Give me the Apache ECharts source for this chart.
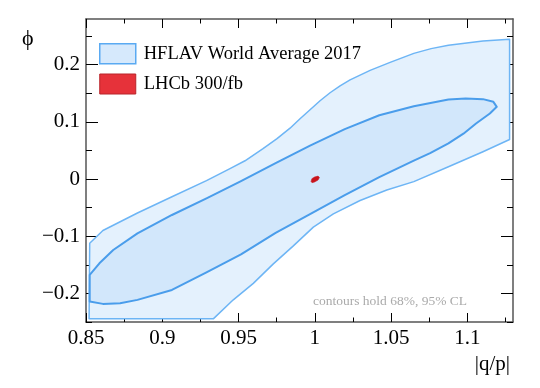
<!DOCTYPE html>
<html>
<head>
<meta charset="utf-8">
<script src="https://cdn.jsdelivr.net/npm/echarts@6/dist/echarts.min.js"></script>
<style>
  html, body { margin: 0; padding: 0; background: #fff; }
  #chart { width: 540px; height: 388px; }
</style>
</head>
<body>
<div id="chart"></div>
<script>
// axis ticks
const qMajor = [0.85, 0.9, 0.95, 1, 1.05, 1.1];
const qMinor = [0.875, 0.925, 0.975, 1.025, 1.075, 1.125];
const phiMajor = [-0.2, -0.1, 0, 0.1, 0.2];
const phiMinor = [-0.25, -0.15, -0.05, 0.05, 0.15, 0.25];

// 95% CL contour (HFLAV), vertices
const outerQ = [0.85243, 0.86109, 0.88373, 0.90636, 0.929, 0.94442, 0.95427, 0.96608, 0.97526, 0.98379, 0.99035, 0.99692,
  1.00348, 1.01004, 1.0166, 1.02316, 1.03629, 1.04941, 1.06496, 1.07631, 1.08766, 1.1103, 1.12776,
  1.12776, 1.1103, 1.08766, 1.06496, 1.04724, 1.02972, 1.0122, 0.99908, 0.98596, 0.97283, 0.95971, 0.94659, 0.93346, 0.85203];
const outerPhi = [-0.1124, -0.0899, -0.0593, -0.0309, -0.0026, 0.0183, 0.0320, 0.0532, 0.0707, 0.089, 0.1056, 0.1213,
  0.137, 0.151, 0.1632, 0.1736, 0.1902, 0.2042, 0.2199, 0.2282, 0.2339, 0.2415, 0.2445,
  0.0693, 0.0478, 0.0215, -0.0044, -0.0192, -0.0375, -0.0610, -0.0840, -0.1169, -0.1483, -0.1824, -0.2112, -0.2445, -0.2445];

// 68% CL contour (HFLAV)
const innerQ = [0.85243, 0.85879, 0.86785, 0.88373, 0.90636, 0.929, 0.95164, 0.97434, 0.99692, 1.01969, 1.04232, 1.06496,
  1.08766, 1.09895, 1.1103, 1.11713, 1.11936,
  1.11483, 1.10577, 1.0975, 1.08766, 1.07566, 1.06496, 1.04232, 1.01969, 0.99692, 0.97434, 0.95164, 0.929, 0.90636,
  0.88373, 0.87238, 0.86109, 0.85243];
const innerPhi = [-0.1677, -0.1473, -0.1241, -0.0949, -0.0628, -0.0337, -0.0035, 0.0279, 0.0585, 0.0873, 0.1117, 0.1274,
  0.1391, 0.1408, 0.1398, 0.1351, 0.1264,
  0.1147, 0.0972, 0.0794, 0.0623, 0.0454, 0.0323, 0.0035, -0.0279, -0.0611, -0.0942, -0.1318, -0.1632, -0.1939,
  -0.2113, -0.2171, -0.2183, -0.2143];

// LHCb 300/fb projection
const lhcbQ = [0.99757, 0.9981, 0.99987, 1.00217, 1.00309, 1.00217, 0.99987, 0.99823];
const lhcbPhi = [-0.00436, 0.0007, 0.00366, 0.00524, 0.00279, -0.00175, -0.00524, -0.00628];

const hflavName = 'HFLAV World Average 2017';
const lhcbName = 'LHCb 300/fb';

function toPoints(xs, ys) {
  let pts = [];
  for (var i = 0; i < xs.length; i++) {
    pts.push([xs[i], ys[i]]);
  }
  return pts;
}

function polygonSeries(name, pts, fill, stroke, width) {
  return {
    type: 'custom',
    name: name,
    coordinateSystem: 'cartesian2d',
    xAxisIndex: 0,
    yAxisIndex: 0,
    silent: true,
    clip: true,
    itemStyle: { color: fill },
    data: pts,
    renderItem: function (params, api) {
      if (params.dataIndex !== 0) {
        return null;
      }
      return {
        type: 'polygon',
        shape: { points: pts.map(p => api.coord(p)) },
        style: { fill: fill, stroke: stroke, lineWidth: width, lineJoin: 'round' }
      };
    }
  };
}

const serif = 'Liberation Serif, Times New Roman, serif';
const frameColor = '#555';

function fmt(v) {
  return v < 0 ? '\u2212' + Math.abs(v) : String(v);
}

function xAxisDef(pos, ticks, len, withLine, withLabel) {
  return {
    type: 'value', position: pos, min: 0.85, max: 1.13,
    axisLine: { show: withLine, onZero: false, lineStyle: { color: frameColor, width: 1.5 } },
    axisTick: { show: true, inside: true, length: len, customValues: ticks, lineStyle: { color: '#000', width: 1 } },
    axisLabel: {
      show: withLabel, customValues: ticks, margin: 6, formatter: fmt,
      fontFamily: serif, fontSize: 21, color: '#000'
    },
    splitLine: { show: false }
  };
}

function yAxisDef(pos, ticks, len, withLine, withLabel) {
  return {
    type: 'value', position: pos, min: -0.25, max: 0.28,
    axisLine: { show: withLine, onZero: false, lineStyle: { color: frameColor, width: 1.5 } },
    axisTick: { show: true, inside: true, length: len, customValues: ticks, lineStyle: { color: '#000', width: 1 } },
    axisLabel: {
      show: withLabel, customValues: ticks, margin: 6, formatter: fmt,
      fontFamily: serif, fontSize: 21, color: '#000'
    },
    splitLine: { show: false }
  };
}

const chart = echarts.init(document.getElementById('chart'), null, { renderer: 'canvas' });

chart.setOption({
  animation: false,
  backgroundColor: '#fff',
  grid: { left: 86, right: 27, top: 19, bottom: 66, outerBoundsMode: 'none' },
  xAxis: [
    xAxisDef('bottom', qMajor, 9, true, true),
    xAxisDef('bottom', qMinor, 4.5, false, false),
    xAxisDef('top', qMajor, 9, true, false),
    xAxisDef('top', qMinor, 4.5, false, false)
  ],
  yAxis: [
    yAxisDef('left', phiMajor, 12, true, true),
    yAxisDef('left', phiMinor, 6, false, false),
    yAxisDef('right', phiMajor, 12, true, false),
    yAxisDef('right', phiMinor, 6, false, false)
  ],
  legend: {
    orient: 'vertical',
    left: 99,
    top: 43,
    padding: 0,
    itemWidth: 36,
    itemHeight: 20,
    itemGap: 9,
    selectedMode: false,
    textStyle: { fontFamily: serif, fontSize: 18.5, color: '#000', padding: [0, 0, 0, 3] },
    data: [
      { name: hflavName, icon: 'rect', itemStyle: { color: '#d6e9fc', borderColor: '#5aaaf2', borderWidth: 1.5 } },
      { name: lhcbName, icon: 'rect', itemStyle: { color: '#e6323a', borderColor: '#b8242a', borderWidth: 1 } }
    ]
  },
  graphic: [
    { type: 'text', left: 22, top: 28, style: { text: '\u03D5', font: '22px ' + serif, fill: '#000' } },
    { type: 'text', right: 30, top: 354, style: { text: '|q/p|', font: '21px ' + serif, fill: '#000' } },
    { type: 'text', left: 313, top: 294, style: { text: 'contours hold 68%, 95% CL', font: '13.5px ' + serif, fill: '#aaa' } }
  ],
  series: [
    polygonSeries(hflavName, toPoints(outerQ, outerPhi), '#e4f1fd', '#6db5f5', 1.5),
    polygonSeries(hflavName, toPoints(innerQ, innerPhi), '#d2e7fb', '#4a9deb', 2),
    polygonSeries(lhcbName, toPoints(lhcbQ, lhcbPhi), '#c8141c', '#c8141c', 0.5)
  ]
});
</script>
</body>
</html>
